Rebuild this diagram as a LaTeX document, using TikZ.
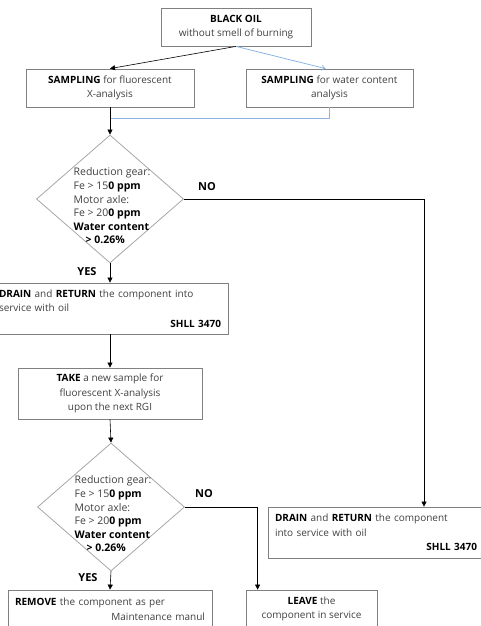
\documentclass[tikz,border=0pt]{standalone}
\usepackage{fontspec}
\setmainfont{Open Sans}
\usetikzlibrary{shapes.geometric,arrows.meta}
\definecolor{boxgray}{HTML}{808080}
\definecolor{diagray}{HTML}{A6A6A6}
\definecolor{linkblue}{HTML}{8DB3E2}
\definecolor{txtgray}{HTML}{404040}
\newcommand{\flushr}{\mbox{}\hskip 0pt plus 1fill\relax}
\begin{document}
\begin{tikzpicture}[x=1pt,y=-1pt,
  font=\fontsize{10}{14.5}\selectfont, text=txtgray,
  stepbox/.style={draw=boxgray, line width=0.8pt, rectangle, align=center, inner sep=0pt},
  leftbox/.style={stepbox, align=left, inner xsep=7pt},
  decision/.style={draw=diagray, line width=0.8pt, diamond, minimum width=147pt, minimum height=128pt, inner sep=0pt},
  dectext/.style={align=left, font=\fontsize{10.5}{13.6}\selectfont},
  answer/.style={font=\fontsize{11}{13}\bfseries, text=black},
  flow/.style={draw=black, line width=0.6pt, -{Triangle[width=5pt,length=5pt]}},
  blueflow/.style={draw=linkblue, line width=0.8pt}]
\useasboundingbox (0,0) rectangle (481,626);
\clip (0,0) rectangle (481,626);
% boxes
\node[stepbox, minimum width=150pt, minimum height=38pt] (oil) at (236,27)
  {\textbf{\color{black}BLACK OIL}\\without smell of burning};
\node[stepbox, minimum width=168pt, minimum height=38pt] (sampx) at (110,88)
  {\textbf{\color{black}SAMPLING} for fluorescent\\X-analysis};
\node[stepbox, minimum width=167pt, minimum height=38pt] (sampw) at (329.5,88)
  {\textbf{\color{black}SAMPLING} for water content\\analysis};
\node[decision] (dec1) at (110,199) {};
\node[dectext] (dec1txt) at (112,206) {Reduction gear:\\Fe > 15\textbf{\color{black}0 ppm}\\Motor axle:\\Fe > 20\textbf{\color{black}0 ppm}\\\textbf{\color{black}Water content}\\\hspace*{12pt}\textbf{\color{black}> 0.26\%}};
\node[leftbox, text width=222pt, minimum height=51pt] (drain1) at (110,308.5)
  {\textbf{\color{black}DRAIN} and \textbf{\color{black}RETURN} the component into\\service with oil\\[1pt]\flushr\textbf{\color{black}SHLL 3470}};
\node[stepbox, minimum width=184pt, minimum height=51pt] (take) at (110,393.5)
  {\textbf{\color{black}TAKE} a new sample for\\fluorescent X-analysis\\upon the next RGI};
\node[decision] (dec2) at (111,507) {};
\node[dectext] (dec2txt) at (113,514) {Reduction gear:\\Fe > 15\textbf{\color{black}0 ppm}\\Motor axle:\\Fe > 20\textbf{\color{black}0 ppm}\\\textbf{\color{black}Water content}\\\hspace*{12pt}\textbf{\color{black}> 0.26\%}};
\node[leftbox, text width=202pt, minimum height=51pt] (drain2) at (376,532.5)
  {\textbf{\color{black}DRAIN} and \textbf{\color{black}RETURN} the component\\into service with oil\\\flushr\textbf{\color{black}SHLL 3470}};
\node[leftbox, text width=190pt, minimum height=38pt] (remove) at (110,609)
  {\textbf{\color{black}REMOVE} the component as per\\\flushr Maintenance manul};
\node[stepbox, minimum width=131pt, minimum height=38pt] (leave) at (311.5,609)
  {\textbf{\color{black}LEAVE} the\\component in service};
% answers
\node[answer] (no1) at (207,187) {NO};
\node[answer] (yes1) at (87,272) {YES};
\node[answer] (no2) at (204,494) {NO};
\node[answer] (yes2) at (88,578) {YES};
% connectors
\coordinate (join) at (110,118);
\coordinate (nocorner) at (424,199);
\draw[flow] (oil.south) -- (sampx.north);
\draw[blueflow, -{To[length=4pt,width=6pt]}] (oil.south) -- ([xshift=-4pt]sampw.north);
\draw[blueflow] (sampw.south) |- (join);
\draw[flow] (sampx.south) -- (dec1.north);
\draw[flow] (dec1.east) -- (nocorner) -- (nocorner |- drain2.north);
\draw[flow] (dec1.south) -- (drain1.north);
\draw[flow] (drain1.south) -- (take.north);
\draw[flow] (take.south) -- (dec2.north);
\draw[flow] (dec2.east) -| ([xshift=12pt]leave.north west);
\draw[flow] (dec2.south) -- (remove.north);
\end{tikzpicture}
\end{document}
